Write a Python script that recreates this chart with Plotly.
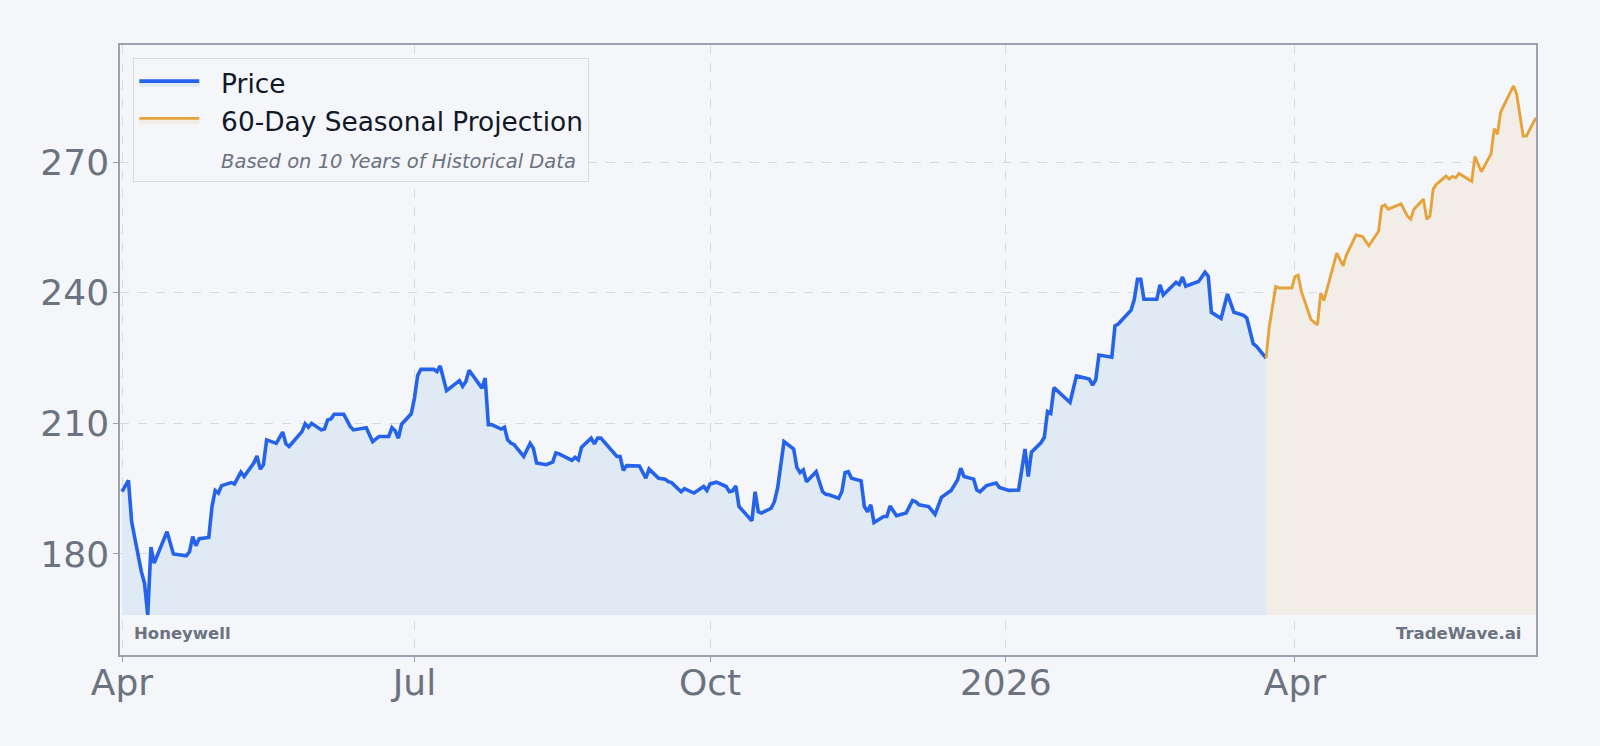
import plotly.graph_objects as go

# ---------------- data ----------------
price_dates = [
    "2025-04-01", "2025-04-03", "2025-04-04", "2025-04-07", "2025-04-08", "2025-04-09", "2025-04-10", "2025-04-11",
    "2025-04-15", "2025-04-17", "2025-04-21", "2025-04-22", "2025-04-23", "2025-04-24", "2025-04-25", "2025-04-28",
    "2025-04-29", "2025-04-30", "2025-05-01", "2025-05-02", "2025-05-05", "2025-05-06", "2025-05-08", "2025-05-09",
    "2025-05-12", "2025-05-13", "2025-05-14", "2025-05-15", "2025-05-16", "2025-05-19", "2025-05-21", "2025-05-22",
    "2025-05-23", "2025-05-27", "2025-05-28", "2025-05-29", "2025-05-30", "2025-06-02", "2025-06-03", "2025-06-04",
    "2025-06-05", "2025-06-06", "2025-06-09", "2025-06-11", "2025-06-12", "2025-06-16", "2025-06-18", "2025-06-20",
    "2025-06-23", "2025-06-24", "2025-06-25", "2025-06-26", "2025-06-27", "2025-06-30", "2025-07-01", "2025-07-02",
    "2025-07-03", "2025-07-07", "2025-07-08", "2025-07-09", "2025-07-11", "2025-07-15", "2025-07-16", "2025-07-17",
    "2025-07-18", "2025-07-22", "2025-07-23", "2025-07-24", "2025-07-25", "2025-07-28", "2025-07-29", "2025-07-30",
    "2025-07-31", "2025-08-01", "2025-08-04", "2025-08-06", "2025-08-07", "2025-08-08", "2025-08-11", "2025-08-13",
    "2025-08-14", "2025-08-15", "2025-08-19", "2025-08-20", "2025-08-21", "2025-08-22", "2025-08-25", "2025-08-26",
    "2025-08-27", "2025-08-28", "2025-09-02", "2025-09-03", "2025-09-04", "2025-09-05", "2025-09-09", "2025-09-11",
    "2025-09-12", "2025-09-15", "2025-09-17", "2025-09-18", "2025-09-19", "2025-09-22", "2025-09-23", "2025-09-26",
    "2025-09-29", "2025-09-30", "2025-10-01", "2025-10-03", "2025-10-06", "2025-10-07", "2025-10-08", "2025-10-09",
    "2025-10-10", "2025-10-14", "2025-10-15", "2025-10-16", "2025-10-17", "2025-10-20", "2025-10-21", "2025-10-22",
    "2025-10-24", "2025-10-27", "2025-10-28", "2025-10-29", "2025-10-30", "2025-10-31", "2025-11-03", "2025-11-05",
    "2025-11-06", "2025-11-07", "2025-11-10", "2025-11-11", "2025-11-12", "2025-11-13", "2025-11-14", "2025-11-17",
    "2025-11-18", "2025-11-19", "2025-11-20", "2025-11-21", "2025-11-24", "2025-11-25", "2025-11-26", "2025-11-28",
    "2025-12-01", "2025-12-03", "2025-12-04", "2025-12-05", "2025-12-08", "2025-12-10", "2025-12-12", "2025-12-15",
    "2025-12-17", "2025-12-18", "2025-12-19", "2025-12-22", "2025-12-23", "2025-12-24", "2025-12-26", "2025-12-29",
    "2025-12-30", "2026-01-02", "2026-01-05", "2026-01-07", "2026-01-08", "2026-01-09", "2026-01-12", "2026-01-13",
    "2026-01-14", "2026-01-15", "2026-01-16", "2026-01-21", "2026-01-23", "2026-01-27", "2026-01-28", "2026-01-29",
    "2026-01-30", "2026-02-03", "2026-02-04", "2026-02-05", "2026-02-09", "2026-02-10", "2026-02-11", "2026-02-12",
    "2026-02-13", "2026-02-17", "2026-02-18", "2026-02-19", "2026-02-23", "2026-02-24", "2026-02-25", "2026-02-26",
    "2026-03-02", "2026-03-04", "2026-03-05", "2026-03-06", "2026-03-09", "2026-03-11", "2026-03-13", "2026-03-16",
    "2026-03-17", "2026-03-19", "2026-03-20", "2026-03-23",
]
price_values = [
    194.3, 196.9, 187.4, 176.0, 173.3, 166.0, 181.6, 177.9,
    185.1, 180.0, 179.6, 180.5, 184.0, 181.9, 183.5, 183.8,
    190.9, 194.6, 194.0, 195.7, 196.4, 196.1, 198.8, 197.8,
    200.9, 202.5, 199.5, 200.5, 206.2, 205.4, 208.0, 205.3,
    204.7, 208.1, 209.9, 209.1, 210.0, 208.5, 208.7, 210.8,
    211.0, 212.1, 212.1, 209.3, 208.5, 209.0, 205.8, 207.0,
    207.0, 209.0, 208.3, 206.6, 209.8, 212.2, 215.8, 221.0,
    222.4, 222.4, 221.9, 223.2, 217.5, 219.8, 218.5, 219.6,
    222.2, 218.1, 220.4, 209.7, 209.7, 208.7, 209.1, 206.2,
    205.5, 205.1, 202.4, 205.4, 204.3, 200.9, 200.5, 201.1,
    203.2, 203.0, 201.5, 202.2, 201.6, 204.5, 206.6, 205.3,
    206.6, 206.6, 202.4, 202.4, 199.2, 200.3, 200.2, 197.4,
    199.5, 197.4, 197.2, 196.6, 196.4, 194.3, 195.0, 194.0,
    195.5, 194.6, 196.1, 196.5, 195.5, 194.3, 194.5, 195.6,
    190.9, 187.6, 194.3, 189.7, 189.4, 190.5, 192.0, 195.1,
    205.8, 204.1, 199.9, 198.7, 199.3, 196.6, 198.9, 194.3,
    193.7, 193.6, 192.8, 194.3, 198.7, 198.9, 197.4, 196.8,
    190.9, 189.7, 191.3, 187.2, 188.6, 188.6, 191.0, 188.8,
    189.4, 192.3, 192.0, 191.3, 190.9, 189.1, 193.0, 194.6,
    197.0, 199.7, 197.8, 197.2, 194.7, 194.3, 195.7, 196.3,
    195.3, 194.6, 194.7, 204.1, 197.8, 203.4, 205.6, 206.8,
    212.7, 212.3, 218.2, 214.8, 220.9, 220.2, 218.8, 220.0,
    225.7, 225.2, 232.4, 232.8, 236.0, 238.5, 243.1, 243.1,
    238.5, 238.5, 241.8, 239.5, 242.4, 241.9, 243.6, 241.5,
    242.6, 244.7, 243.8, 235.5, 234.1, 239.7, 235.5, 234.8,
    234.2, 228.3, 227.7, 225.0,
]

proj_dates = [
    "2026-03-23", "2026-03-24", "2026-03-26", "2026-03-27", "2026-03-31", "2026-04-01", "2026-04-02", "2026-04-03",
    "2026-04-06", "2026-04-08", "2026-04-09", "2026-04-10", "2026-04-14", "2026-04-16", "2026-04-17", "2026-04-20",
    "2026-04-22", "2026-04-24", "2026-04-27", "2026-04-28", "2026-04-29", "2026-04-30", "2026-05-04", "2026-05-06",
    "2026-05-07", "2026-05-08", "2026-05-11", "2026-05-12", "2026-05-13", "2026-05-14", "2026-05-15", "2026-05-18",
    "2026-05-19", "2026-05-20", "2026-05-21", "2026-05-22", "2026-05-26", "2026-05-27", "2026-05-29", "2026-06-01",
    "2026-06-02", "2026-06-03", "2026-06-04", "2026-06-08", "2026-06-09", "2026-06-11", "2026-06-12", "2026-06-15",
]
proj_values = [
    225.0, 232.2, 241.4, 241.1, 241.1, 243.7, 244.0, 240.3,
    233.8, 232.6, 239.9, 238.2, 249.1, 246.2, 248.7, 253.3,
    252.9, 250.8, 254.1, 259.8, 260.2, 259.2, 260.4, 257.6,
    256.9, 259.2, 261.5, 256.9, 257.6, 263.8, 264.9, 266.8,
    266.1, 266.7, 266.4, 267.4, 265.6, 271.3, 267.8, 271.9,
    277.7, 276.4, 281.5, 287.5, 285.6, 276.0, 276.0, 280.2,
]

x_tick_dates = ["2025-04-01", "2025-07-01", "2025-10-01", "2026-01-01", "2026-04-01"]
x_tick_labels = ["Apr", "Jul", "Oct", "2026", "Apr"]
y_tick_values = [180, 210, 240, 270]

series_names = ["Price", "60-Day Seasonal Projection"]
subtitle_text = "Based on 10 Years of Historical Data"
brand_left = "Honeywell"
brand_right = "TradeWave.ai"

# ---------------- styling ----------------
BG = "#f4f6f9"
BLUE = "#2563eb"
ORANGE = "#e6a33c"
BLUE_FILL = "#e0eaf5"
ORANGE_FILL = "#f2ede6"
GRID = "#d7dbe1"
SPINE = "#9ba1ad"
TICK_TXT = "#6b7280"
FONT = "DejaVu Sans"
PAD = "&nbsp;&nbsp;"

base = min(price_values)

fig = go.Figure()

# baseline + price area
fig.add_trace(go.Scatter(x=[price_dates[0], price_dates[-1]], y=[base, base], mode="lines",
                         line=dict(width=0, color=BLUE_FILL), showlegend=False, hoverinfo="skip"))
fig.add_trace(go.Scatter(x=price_dates, y=price_values, mode="lines", name=PAD + series_names[0],
                         fill="tonexty", fillcolor=BLUE_FILL,
                         line=dict(color=BLUE, width=3.6), legendgroup="a"))
# baseline + projection area
fig.add_trace(go.Scatter(x=[proj_dates[0], proj_dates[-1]], y=[base, base], mode="lines",
                         line=dict(width=0, color=ORANGE_FILL), showlegend=False, hoverinfo="skip"))
fig.add_trace(go.Scatter(x=proj_dates, y=proj_values, mode="lines", name=PAD + series_names[1],
                         fill="tonexty", fillcolor=ORANGE_FILL,
                         line=dict(color=ORANGE, width=2.9), legendgroup="b"))
# legend subtitle entry (no symbol)
fig.add_trace(go.Scatter(x=[None], y=[None], mode="lines", line=dict(color="rgba(0,0,0,0)", width=0),
                         name=f"{PAD}<i><span style='font-size:19.5px;color:#6b7280'>{subtitle_text}</span></i>",
                         legendgroup="c", hoverinfo="skip"))

axis_common = dict(
    showgrid=True, gridcolor=GRID, gridwidth=1, griddash="dash",
    showline=True, mirror=True, linecolor=SPINE, linewidth=1.5,
    ticks="outside", ticklen=5, tickwidth=1, tickcolor=SPINE,
    tickfont=dict(family=FONT, size=36, color=TICK_TXT), zeroline=False,
)

fig.update_layout(
    width=1600, height=746, autosize=False,
    margin=dict(l=120, r=64, t=45, b=91),
    paper_bgcolor=BG, plot_bgcolor=BG,
    font=dict(family=FONT, color=TICK_TXT),
    xaxis=dict(type="date", range=["2025-03-31 09:00", "2026-06-15"],
               tickmode="array", tickvals=x_tick_dates, ticktext=x_tick_labels,
               ticklabelstandoff=-10, **axis_common),
    yaxis=dict(range=[156.8, 296.9], tickmode="array", tickvals=y_tick_values,
               ticklabelstandoff=-3, **axis_common),
    showlegend=True,
    legend=dict(x=0.0094, y=0.978, xanchor="left", yanchor="top",
                bgcolor=BG, bordercolor="#d6dae1", borderwidth=1,
                font=dict(family=FONT, size=26.4, color="#111827"),
                traceorder="grouped", tracegroupgap=0, itemwidth=60),
    annotations=[
        dict(text=f"<b>{brand_left}</b>", xref="paper", yref="paper", x=0.0083, y=0.035,
             xanchor="left", yanchor="middle", showarrow=False,
             font=dict(family=FONT, size=16.5, color=TICK_TXT)),
        dict(text=f"<b>{brand_right}</b>", xref="paper", yref="paper", x=0.991, y=0.035,
             xanchor="right", yanchor="middle", showarrow=False,
             font=dict(family=FONT, size=16.5, color=TICK_TXT)),
    ],
)

fig.write_html("out.html")
